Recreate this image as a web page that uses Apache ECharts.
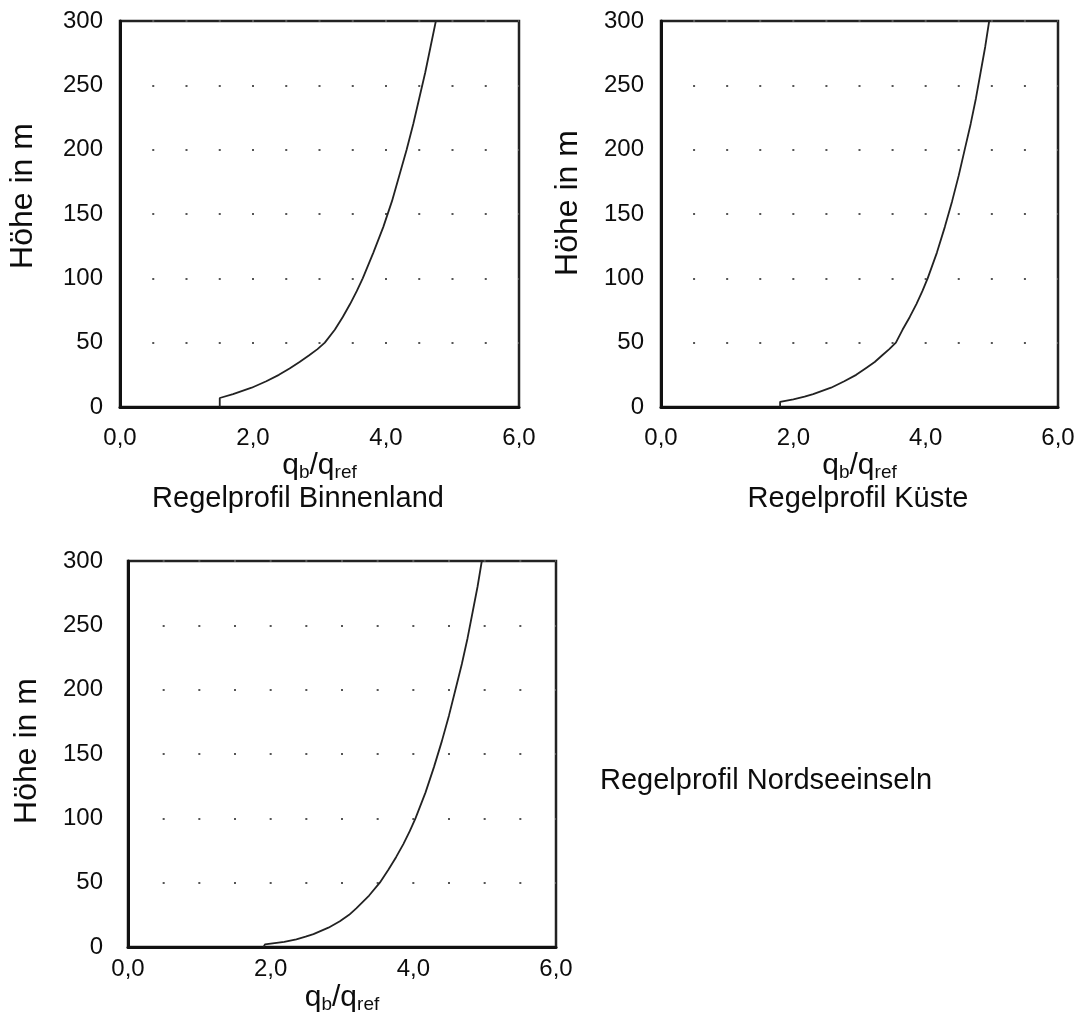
<!DOCTYPE html>
<html>
<head>
<meta charset="utf-8">
<script src="https://cdn.jsdelivr.net/npm/echarts@6/dist/echarts.min.js"></script>
<style>
  html, body { margin: 0; padding: 0; background: #fff; }
  #chart { width: 1079px; height: 1016px; }
</style>
</head>
<body>
<div id="chart"></div>
<script>
// height in m and q_b/q_ref
const heightsBinnenland = [0, 7, 10, 15, 20, 25, 30, 35, 40, 45, 50, 60, 70, 80, 90, 100, 120, 140, 160, 180, 200, 220, 240, 260, 280, 300]
const ratioBinnenland = [1.50, 1.50, 1.70, 1.98, 2.20, 2.39, 2.55, 2.70, 2.84, 2.97, 3.08, 3.23, 3.35, 3.46, 3.56, 3.65, 3.81, 3.96, 4.09, 4.20, 4.31, 4.41, 4.50, 4.59, 4.67, 4.75]

const heightsKueste = [0, 4, 6, 8, 10, 15, 20, 25, 30, 35, 40, 45, 50, 60, 70, 80, 90, 100, 120, 140, 160, 180, 200, 220, 240, 260, 280, 300]
const ratioKueste = [1.80, 1.80, 2.00, 2.17, 2.30, 2.57, 2.77, 2.95, 3.09, 3.23, 3.34, 3.45, 3.55, 3.65, 3.76, 3.86, 3.95, 4.03, 4.17, 4.29, 4.40, 4.50, 4.59, 4.68, 4.76, 4.83, 4.90, 4.96]

const heightsNordsee = [0, 2, 4, 6, 8, 10, 15, 20, 25, 30, 40, 50, 60, 70, 80, 90, 100, 120, 140, 160, 180, 200, 220, 240, 260, 280, 300]
const ratioNordsee = [1.90, 1.92, 2.19, 2.36, 2.49, 2.60, 2.81, 2.97, 3.10, 3.20, 3.38, 3.53, 3.65, 3.76, 3.86, 3.95, 4.03, 4.17, 4.29, 4.40, 4.50, 4.59, 4.68, 4.76, 4.83, 4.90, 4.96]

const titles = ['Regelprofil Binnenland', 'Regelprofil Küste', 'Regelprofil Nordseeinseln']

const font = 'Liberation Sans, Arial, sans-serif'
const ink = '#0d0d0d'

const grids = [
  { left: 120, top: 21, width: 399, height: 386 },
  { left: 661, top: 21, width: 397, height: 386 },
  { left: 128, top: 561, width: 428, height: 386 }
]
const yNameGap = [81, 77, 85]
const yNameShift = [36, 22, 6]
const yLabelMargin = [17, 17, 25]
const xLabelMargin = [19, 19, 10]
const xNameGap = [34, 34, 35]

const pair = (xs, ys) => ys.map((y, i) => [xs[i], y])
const seriesData = [
  pair(ratioBinnenland, heightsBinnenland),
  pair(ratioKueste, heightsKueste),
  pair(ratioNordsee, heightsNordsee)
]

const xName = '{m|q}{s|b}{m|/q}{s|ref}'
const xNameRich = {
  m: { fontSize: 30, fontFamily: font, color: ink, lineHeight: 32 },
  s: { fontSize: 19, fontFamily: font, color: ink, lineHeight: 14, verticalAlign: 'bottom' }
}

const titleStyle = { fontFamily: font, fontSize: 29, fontWeight: 'normal', color: ink }

const chart = echarts.init(document.getElementById('chart'))

const option = {
  backgroundColor: '#fff',
  animation: false,
  title: [
    { text: titles[0], left: 298, top: 484, textAlign: 'center', padding: 0, textStyle: titleStyle },
    { text: titles[1], left: 858, top: 484, textAlign: 'center', padding: 0, textStyle: titleStyle },
    { text: titles[2], left: 600, top: 766, padding: 0, textStyle: titleStyle }
  ],
  grid: grids.map(g => ({
    ...g,
    show: true,
    borderColor: '#222',
    borderWidth: 2.5,
    backgroundColor: '#fff'
  })),
  xAxis: grids.map((g, i) => ({
    type: 'value',
    gridIndex: i,
    min: 0,
    max: 6,
    interval: 2,
    name: xName,
    nameLocation: 'middle',
    nameGap: xNameGap[i],
    nameTextStyle: { rich: xNameRich },
    axisLine: { show: true, lineStyle: { color: '#111', width: 3 } },
    axisTick: { show: false },
    splitLine: { show: false },
    axisLabel: {
      margin: xLabelMargin[i],
      fontFamily: font,
      fontSize: 24,
      color: ink,
      formatter: v => v.toFixed(1).replace('.', ',')
    }
  })),
  yAxis: grids.map((g, i) => {
    const step = g.width / 12
    return {
      type: 'value',
      gridIndex: i,
      min: 0,
      max: 300,
      interval: 50,
      name: 'Höhe in m',
      nameLocation: 'middle',
      nameRotate: 90,
      nameGap: yNameGap[i],
      nameTextStyle: {
        fontFamily: font, fontSize: 32, color: ink,
        padding: [0, 0, 0, yNameShift[i]]
      },
      axisLine: { show: true, lineStyle: { color: '#111', width: 3 } },
      axisTick: { show: false },
      axisLabel: {
        margin: yLabelMargin[i],
        fontFamily: font,
        fontSize: 24,
        color: ink
      },
      splitLine: {
        show: true,
        lineStyle: {
          color: '#555',
          width: 2,
          type: [2, step - 2],
          dashOffset: 1
        }
      }
    }
  }),
  series: seriesData.map((d, i) => ({
    type: 'line',
    xAxisIndex: i,
    yAxisIndex: i,
    data: d,
    showSymbol: false,
    smooth: false,
    lineStyle: { color: '#222', width: 1.8 },
    z: 3
  }))
}

chart.setOption(option)
</script>
</body>
</html>
